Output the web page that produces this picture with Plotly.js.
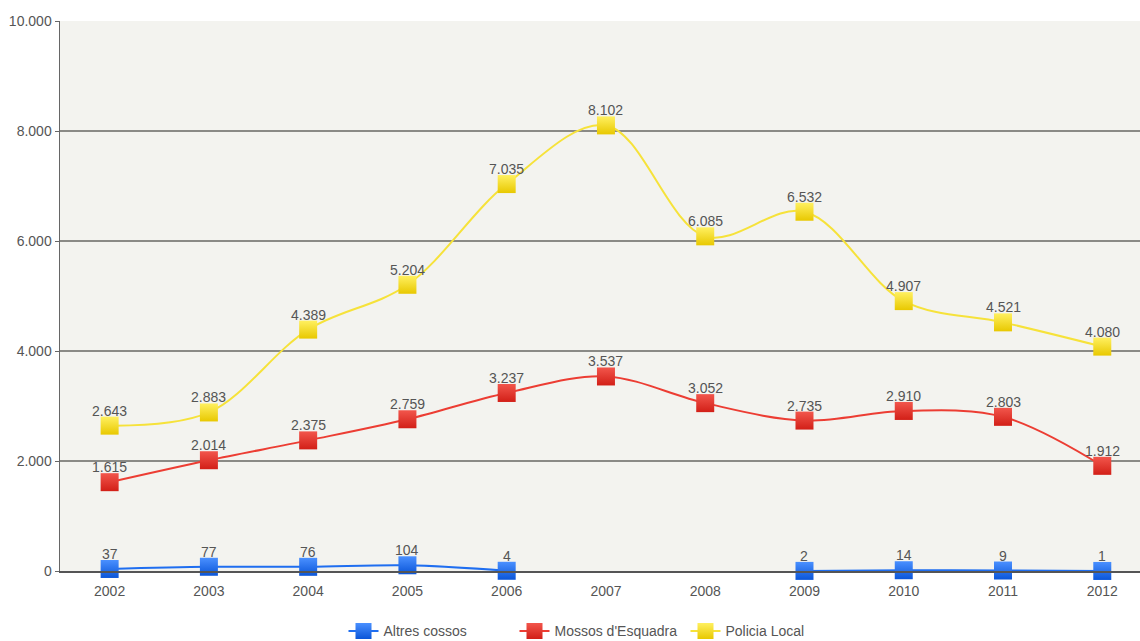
<!DOCTYPE html>
<html><head><meta charset="utf-8">
<script src="https://cdn.plot.ly/plotly-3.0.1.min.js"></script>
<style>html,body{margin:0;padding:0;background:#fff}#c{width:1140px;height:641px}</style>
</head><body><div id="c"></div>
<script>
const years = ['2002','2003','2004','2005','2006','2007','2008','2009','2010','2011','2012'];
const altres = [37,77,76,104,4,null,null,2,14,9,1];
const mossos = [1615,2014,2375,2759,3237,3537,3052,2735,2910,2803,1912];
const policia = [2643,2883,4389,5204,7035,8102,6085,6532,4907,4521,4080];
const yTicks = [0,2000,4000,6000,8000,10000];

const FONT = 'Liberation Sans, Arial, sans-serif';
function fmt(v){ return String(v).replace(/\B(?=(\d{3})+(?!\d))/g, '.'); }

function tr(name, y, line, mk, mk2){
  return {
    type:'scatter', mode:'lines+markers', name:name, x:years, y:y,
    connectgaps:false,
    line:{color:line, width:2, shape:'spline', smoothing:1},
    marker:{symbol:'square', size:18, color:mk, gradient:{type:'vertical', color:mk2}, line:{width:0}},
    cliponaxis:false
  };
}
const data = [
  tr('Altres cossos', altres, '#1f6ef0', '#4a90ff', '#0a55d8'),
  tr("Mossos d'Esquadra", mossos, '#ec3d33', '#f2564c', '#d21f17'),
  tr('Policia Local', policia, '#f6e23a', '#fff060', '#e8c800')
];
const annotations = [];
[altres, mossos, policia].forEach(function(series){
  series.forEach(function(v, i){
    if (v === null) return;
    annotations.push({x:i, y:v, xref:'x', yref:'y', text:fmt(v), showarrow:false,
      yshift:15, font:{family:FONT, size:14, color:'#555'}});
  });
});
const layout = {
  width:1140, height:641,
  margin:{l:60, r:0, t:21, b:70},
  paper_bgcolor:'#ffffff', plot_bgcolor:'#f3f3ef',
  separators:',.',
  font:{family:FONT, size:14, color:'#555'},
  showlegend:true,
  annotations:annotations,
  legend:{orientation:'h', x:0.5, xanchor:'center', yref:'container', y:0.015, yanchor:'middle',
    font:{size:14, color:'#555'}, traceorder:'normal', entrywidth:126, itemwidth:30},
  xaxis:{type:'category', range:[-0.5,10.38], showgrid:false, showline:true, automargin:false,
    linecolor:'#555', linewidth:1.5, ticks:'outside', ticklen:7, tickcolor:'rgba(0,0,0,0)',
    tickfont:{size:14,color:'#555'}, fixedrange:true, zeroline:false},
  yaxis:{range:[0,10000], tickvals:yTicks, tickformat:',d', showgrid:true, gridcolor:'#8a8a86', gridwidth:1.5,
    showline:true, linecolor:'#666', linewidth:1.5, ticks:'outside', ticklen:4, tickcolor:'#666', automargin:false,
    tickfont:{size:14,color:'#555'}, zeroline:false}
};
Plotly.newPlot('c', data, layout, {displayModeBar:false, staticPlot:true});
</script></body></html>
